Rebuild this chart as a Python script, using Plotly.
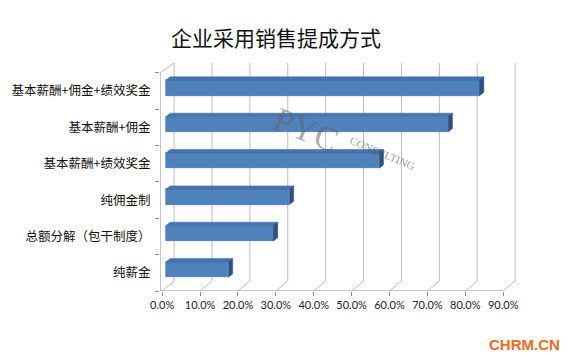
import plotly.graph_objects as go

# ---------------- data ----------------
categories = ["基本薪酬+佣金+绩效奖金", "基本薪酬+佣金", "基本薪酬+绩效奖金",
              "纯佣金制", "总额分解（包干制度）", "纯薪金"]
values = [0.828, 0.745, 0.563, 0.326, 0.284, 0.165]
x_tick_vals = [0.0, 0.1, 0.2, 0.3, 0.4, 0.5, 0.6, 0.7, 0.8, 0.9]
x_tick_text = ["0.0%", "10.0%", "20.0%", "30.0%", "40.0%", "50.0%",
               "60.0%", "70.0%", "80.0%", "90.0%"]
title_text = "企业采用销售提成方式"

# ---------------- geometry (pixels) ----------------
W, H = 577, 363
PL, PR, PT, PB = 157.3, 525, 58, 291.5
X0PX = 159.5      # pixel of 0% on the front plane
PXX = 381.7       # pixels per 1.0 (100%)
PXY = 36.42       # pixels per category

n = len(categories)
pos = [n - 1 - i for i in range(n)]

x_min = (PL - X0PX) / PXX
x_max = (PR - X0PX) / PXX
y_min = -0.5
y_max = -0.5 + (PB - PT) / PXY

BACK_DX, BACK_DY = 12 / PXX, 10 / PXY
BAR_DX, BAR_DY = 3.8 / PXX, 3.2 / PXY
DEP_DX, DEP_DY = 4.2 / PXX, 3.4 / PXY
BAR_W = 15.4 / PXY

GRID = "#BDBDBD"
AXIS = "#8C8C8C"


def px_x(p):
    return (p - PL) / (PR - PL)


def px_y(p):
    return (PB - p) / (PB - PT)


fig = go.Figure()

# front faces
fig.add_trace(go.Bar(
    x=values, y=[p + BAR_DY for p in pos], base=BAR_DX, orientation="h",
    width=BAR_W, marker=dict(color="#4F81BD", line=dict(color="#3E6DA6", width=0.6)),
    hoverinfo="skip", showlegend=False))

# top faces and side faces
tx, ty, sx, sy = [], [], [], []
for v, p in zip(values, pos):
    yc = p + BAR_DY
    yt, yb = yc + BAR_W / 2, yc - BAR_W / 2
    x0, x1 = BAR_DX, BAR_DX + v
    tx += [x0, x1, x1 + DEP_DX, x0 + DEP_DX, x0, None]
    ty += [yt, yt, yt + DEP_DY, yt + DEP_DY, yt, None]
    sx += [x1, x1 + DEP_DX, x1 + DEP_DX, x1, x1, None]
    sy += [yb, yb + DEP_DY, yt + DEP_DY, yt, yb, None]
fig.add_trace(go.Scatter(x=tx, y=ty, mode="lines", fill="toself",
                         fillcolor="#4674AE", line=dict(color="#3A659B", width=0.5),
                         hoverinfo="skip", showlegend=False))
fig.add_trace(go.Scatter(x=sx, y=sy, mode="lines", fill="toself",
                         fillcolor="#2C5282", line=dict(color="#264A78", width=0.5),
                         hoverinfo="skip", showlegend=False))

# gridlines: floor diagonals + back wall verticals
shapes = []
for t in x_tick_vals:
    shapes.append(dict(type="line", xref="x", yref="y", layer="below",
                       x0=t, y0=-0.5, x1=t + BACK_DX, y1=-0.5 + BACK_DY,
                       line=dict(color=GRID, width=1)))
    shapes.append(dict(type="line", xref="x", yref="y", layer="below",
                       x0=t + BACK_DX, y0=-0.5 + BACK_DY, x1=t + BACK_DX, y1=n - 0.5 + BACK_DY,
                       line=dict(color=GRID, width=1)))
# left wall front edge and its top diagonal
shapes.append(dict(type="line", xref="x", yref="y", layer="below",
                   x0=x_min, y0=-0.5, x1=x_min, y1=n - 0.5, line=dict(color=AXIS, width=1)))
shapes.append(dict(type="line", xref="x", yref="y", layer="below",
                   x0=x_min, y0=n - 0.5, x1=BACK_DX, y1=n - 0.5 + BACK_DY,
                   line=dict(color=GRID, width=1)))
# front floor line
shapes.append(dict(type="line", xref="x", yref="y", layer="below",
                   x0=x_min - 2 / PXX, y0=-0.5, x1=x_tick_vals[-1], y1=-0.5,
                   line=dict(color=AXIS, width=1)))

annotations = [
    dict(text=title_text, xref="paper", yref="paper", showarrow=False,
         x=px_x(274), y=px_y(37), xanchor="center", yanchor="middle",
         font=dict(family="Noto Sans CJK SC", size=21, color="#111111")),
    dict(text="PYC", xref="paper", yref="paper", showarrow=False,
         x=px_x(304), y=px_y(130), xanchor="center", yanchor="middle", textangle=22,
         font=dict(family="Liberation Serif", size=34, color="rgba(100,100,100,0.55)")),
    dict(text="CONSULTING", xref="paper", yref="paper", showarrow=False,
         x=px_x(381), y=px_y(153), xanchor="center", yanchor="middle", textangle=23,
         font=dict(family="Liberation Serif", size=11, color="rgba(80,80,80,0.6)")),
    dict(text="<b>CHRM.CN</b>", xref="paper", yref="paper", showarrow=False,
         x=px_x(524), y=px_y(345), xanchor="center", yanchor="middle",
         font=dict(family="Liberation Sans", size=15, color="#F26A1B")),
]

fig.update_layout(
    width=W, height=H,
    margin=dict(l=PL, r=W - PR, t=PT, b=H - PB, pad=0),
    paper_bgcolor="white", plot_bgcolor="rgba(0,0,0,0)",
    barmode="overlay", bargap=0,
    shapes=shapes, annotations=annotations,
    xaxis=dict(range=[x_min, x_max], tickvals=x_tick_vals, ticktext=x_tick_text,
               ticks="outside", ticklen=4, tickcolor=AXIS, showgrid=False,
               zeroline=False, showline=False, fixedrange=True,
               tickfont=dict(family="Lato", size=11, color="#222222")),
    yaxis=dict(range=[y_min, y_max], tickvals=pos, ticktext=categories,
               ticks="outside", ticklen=6, tickcolor="rgba(0,0,0,0)",
               showgrid=False, zeroline=False, showline=False, fixedrange=True,
               minor=dict(tickvals=[k - 0.5 for k in range(n + 1)], ticks="outside",
                          ticklen=4, tickcolor=AXIS, showgrid=False),
               tickfont=dict(family="Noto Sans CJK SC", size=12.5, color="#111111")),
    showlegend=False,
)

fig.write_html("out.html")
